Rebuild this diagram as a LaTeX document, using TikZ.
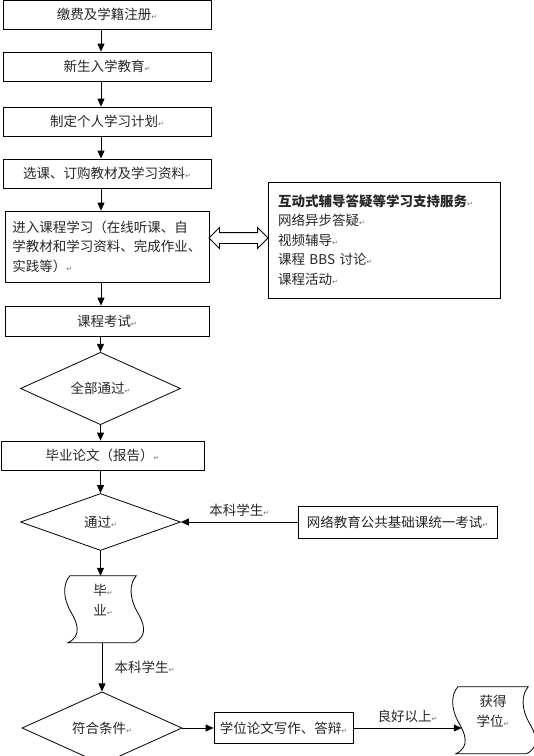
\documentclass[tikz,border=0pt]{standalone}
\usepackage{fontspec}
\setmainfont{Noto Sans CJK SC}
\newfontfamily\symfont{DejaVu Sans}
\usepackage{xcolor}
\usepackage{tikz}
\usetikzlibrary{shapes.geometric,shapes.arrows,arrows.meta}

% Word paragraph mark
\newcommand{\crmark}{{\symfont\fontsize{7}{7}\selectfont\textcolor{black!55}{↵}}}
% wavy outline round an (invisible) tape node, 67pt high
\newcommand{\tapeoutline}[1]{%
  \draw[line width=0.8pt] (#1.north west) -- (#1.north east)
    .. controls ([shift={(-7,8)}]#1.north east) and ([shift={(-7,22)}]#1.north east) .. ([shift={(1,36)}]#1.north east)
    .. controls ([shift={(7,46)}]#1.north east) and ([shift={(13,60)}]#1.north east) .. ([shift={(-2,67)}]#1.north east)
    -- ([shift={(-2,67)}]#1.north west)
    .. controls ([shift={(13,60)}]#1.north west) and ([shift={(7,46)}]#1.north west) .. ([shift={(1,36)}]#1.north west)
    .. controls ([shift={(-7,22)}]#1.north west) and ([shift={(-7,8)}]#1.north west) .. cycle;}

\tikzset{
  stepbox/.style={draw, rectangle, line width=0.8pt, minimum height=29pt, inner sep=2pt},
  decide/.style={draw, diamond, line width=0.8pt, minimum width=160pt, minimum height=55pt, inner sep=0pt},
  tapebox/.style={rectangle, minimum height=67pt, inner sep=0pt, align=center},
}

\begin{document}
\begin{tikzpicture}[x=1pt,y=-1pt,font=\fontsize{13.5}{19.5}\selectfont,text=black!85]
		\useasboundingbox (0,0) rectangle (534,756);
		\node[stepbox, minimum width=208pt] (reg) at (107,14.5) {缴费及学籍注册\crmark};
		\node[stepbox, minimum width=208pt] (orient) at (107,66.5) {新生入学教育\crmark};
		\node[stepbox, minimum width=208pt] (plan) at (107,121.5) {制定个人学习计划\crmark};
		\node[stepbox, minimum width=208pt] (select) at (107,173.5) {选课、订购教材及学习资料\crmark};
		\node[stepbox, minimum width=204pt, minimum height=71pt, align=left] (study) at (107,246.5) {进入课程学习（在线听课、自\\学教材和学习资料、完成作业、\\实践等）\crmark};
		\node[stepbox, minimum width=232pt, minimum height=116pt, text width=212pt, align=left] (support) at (384,240) {{\bfseries 互动式辅导答疑等学习支持服务}\crmark\\网络异步答疑\crmark\\视频辅导\crmark\\课程 BBS 讨论\crmark\\课程活动\crmark};
		\node[double arrow, draw, line width=0.8pt, minimum height=59pt, double arrow head extend=5pt, inner sep=0pt] (link) at (238.5,238) {\rule{0pt}{10pt}};
		\node[stepbox, minimum width=204pt, minimum height=30pt] (exam) at (107,321) {课程考试\crmark};
		\node[decide] (allpass) at (100.5,388.5) {全部通过\crmark};
		\node[stepbox, minimum width=203pt] (thesis) at (102.5,455.5) {毕业论文（报告）\crmark};
		\node[decide, minimum height=57pt] (pass) at (100.5,522) {通过\crmark};
		\node[stepbox, minimum width=199pt, minimum height=32pt] (uexam) at (397.5,522) {网络教育公共基础课统一考试\crmark};
		\node[tapebox, minimum width=66pt] (grad) at (103,609.5) {毕\crmark\\业\crmark\\\mbox{}};
		\node[decide] (degree) at (102,728) {符合条件\crmark};
		\node[stepbox, minimum width=139pt, minimum height=31pt] (degthesis) at (283.5,728) {学位论文写作、答辩\crmark};
		\node[tapebox, minimum width=70pt] (degtape) at (493,720.5) {获得\\学位\crmark\\\mbox{}};
		\tapeoutline{grad}
		\tapeoutline{degtape}
		\coordinate (spine) at (101,0);
		%
		\path[-{Triangle[length=8pt,width=7pt]}, line width=0.8pt]
		% vertical arrows
		(reg.south -| spine) edge (orient.north -| spine)
		(orient.south -| spine) edge (plan.north -| spine)
		(plan.south -| spine) edge (select.north -| spine)
		(select.south -| spine) edge (study.north -| spine)
		(study.south -| spine) edge (exam.north -| spine)
		(exam.south -| allpass) edge (allpass.north)
		(allpass.south) edge (thesis.north -| allpass)
		(thesis.south -| pass) edge (pass.north)
		(pass.south) edge (grad.north -| pass)
		(grad.south -| degree) edge node[right, xshift=9pt]{本科学生\crmark} (degree.north)
		% horizontal arrows
		(uexam.west) edge node[above, yshift=2pt]{本科学生\crmark} (pass.east)
		(degree.east) edge (degthesis.west)
		(degthesis.east) edge node[above, yshift=2pt]{良好以上\crmark} ([xshift=4pt]degthesis.east -| degtape.west);
	\end{tikzpicture}
\end{document}
